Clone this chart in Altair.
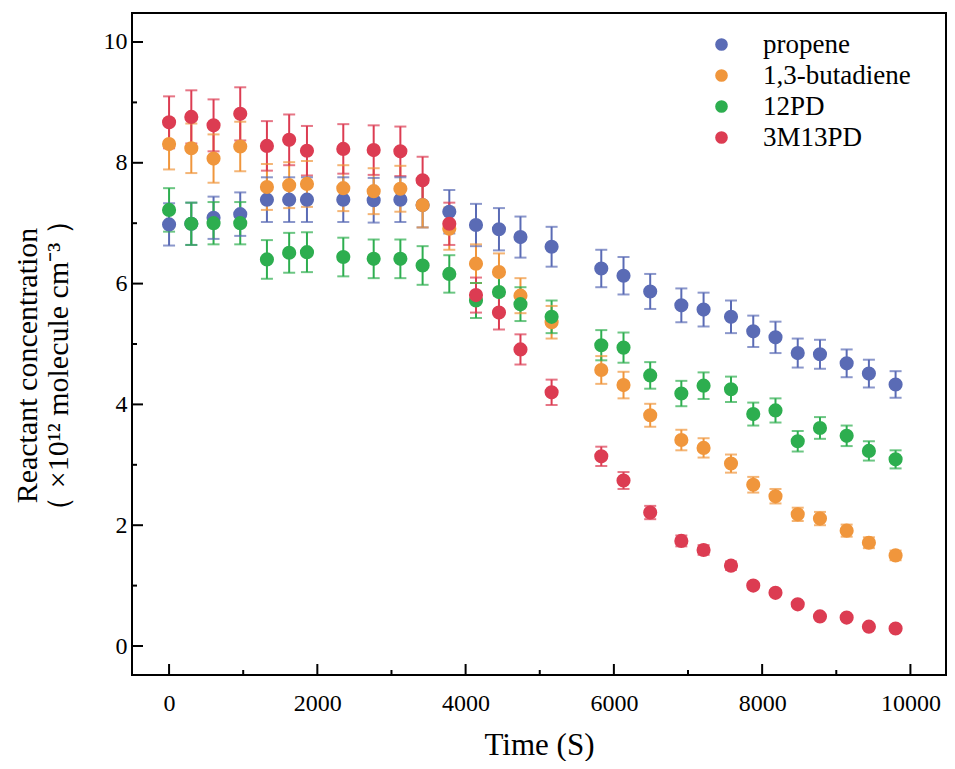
import altair as alt
import pandas as pd

# ---------------- data ----------------
time_s = [0, 300, 600, 960, 1320, 1620, 1860, 2350, 2760, 3120, 3420, 3780,
          4140, 4450, 4740, 5160, 5830, 6130, 6490, 6910, 7210, 7580, 7880,
          8180, 8480, 8780, 9140, 9440, 9800]

series_names = ["propene", "1,3-butadiene", "12PD", "3M13PD"]

propene = [6.98, 6.99, 7.09, 7.15, 7.39, 7.39, 7.39, 7.39, 7.38, 7.39, 7.30, 7.19,
           6.97, 6.90, 6.77, 6.61, 6.25, 6.13, 5.87, 5.64, 5.57, 5.45, 5.21,
           5.11, 4.85, 4.83, 4.68, 4.51, 4.33]
propene_err = [0.35, 0.35, 0.35, 0.36, 0.37, 0.37, 0.37, 0.37, 0.37, 0.37, 0.37, 0.36,
               0.35, 0.35, 0.34, 0.33, 0.31, 0.31, 0.29, 0.28, 0.28, 0.27, 0.26,
               0.26, 0.24, 0.24, 0.23, 0.23, 0.22]

butadiene = [8.31, 8.24, 8.07, 8.27, 7.60, 7.63, 7.65, 7.58, 7.53, 7.57, 7.30, 6.91,
             6.33, 6.19, 5.80, 5.36, 4.57, 4.32, 3.82, 3.41, 3.28, 3.02, 2.67,
             2.48, 2.18, 2.11, 1.91, 1.71, 1.50]
butadiene_err = [0.42, 0.41, 0.40, 0.41, 0.38, 0.38, 0.38, 0.38, 0.38, 0.38, 0.37, 0.35,
                 0.32, 0.31, 0.29, 0.27, 0.23, 0.22, 0.19, 0.17, 0.16, 0.15, 0.13,
                 0.12, 0.11, 0.11, 0.10, 0.09, 0.08]

pd12 = [7.22, 6.99, 7.00, 7.00, 6.40, 6.51, 6.52, 6.44, 6.41, 6.41, 6.30, 6.16,
        5.72, 5.86, 5.66, 5.45, 4.98, 4.94, 4.48, 4.18, 4.31, 4.25, 3.84,
        3.90, 3.39, 3.61, 3.48, 3.23, 3.09]
pd12_err = [0.36, 0.35, 0.35, 0.35, 0.32, 0.33, 0.33, 0.32, 0.32, 0.32, 0.32, 0.31,
            0.29, 0.29, 0.28, 0.27, 0.25, 0.25, 0.22, 0.21, 0.22, 0.21, 0.19,
            0.20, 0.17, 0.18, 0.17, 0.16, 0.15]

m13pd = [8.67, 8.76, 8.62, 8.81, 8.28, 8.38, 8.20, 8.23, 8.21, 8.19, 7.71, 6.99,
         5.81, 5.52, 4.91, 4.20, 3.14, 2.74, 2.21, 1.74, 1.59, 1.33, 1.00,
         0.88, 0.69, 0.49, 0.47, 0.32, 0.29]
m13pd_err = [0.43, 0.44, 0.43, 0.44, 0.41, 0.42, 0.41, 0.41, 0.41, 0.41, 0.39, 0.35,
             0.29, 0.28, 0.25, 0.21, 0.16, 0.14, 0.11, 0.09, 0.08, 0.07, 0.05,
             0.04, 0.03, 0.02, 0.02, 0.02, 0.01]

colors = ["#5A6BB5", "#F0963C", "#2DAE4F", "#DC3C52"]

x_label_values = [0, 2000, 4000, 6000, 8000, 10000]
x_tick_values = [0, 1000, 2000, 3000, 4000, 5000, 6000, 7000, 8000, 9000, 10000]
y_label_values = [0, 2, 4, 6, 8, 10]
y_tick_values = [0, 1, 2, 3, 4, 5, 6, 7, 8, 9, 10]

# ---------------- tables ----------------
rows = []
for name, col, vals, errs in zip(series_names, colors,
                                 [propene, butadiene, pd12, m13pd],
                                 [propene_err, butadiene_err, pd12_err, m13pd_err]):
    for t, v, e in zip(time_s, vals, errs):
        rows.append({"time": t, "value": v, "lo": v - e, "hi": v + e,
                     "series": name, "col": col})
df = pd.DataFrame(rows)
xt_df = pd.DataFrame({"v": x_tick_values})
yt_df = pd.DataFrame({"v": y_tick_values})

W, H = 814, 662
FONT = "Liberation Serif"
MAJ, MIN = 11, 5

xscale = alt.Scale(domain=[-500, 10480], nice=False, zero=False)
yscale = alt.Scale(domain=[-0.48, 10.48], nice=False, zero=False)
cscale = alt.Scale(domain=series_names, range=colors)

x_axis = alt.Axis(values=x_label_values, format="d", ticks=False, tickSize=0,
                  domain=False, grid=False,
                  labelFont=FONT, labelFontSize=24, labelPadding=16,
                  labelColor="black",
                  title="Time (S)", titleFont=FONT, titleFontSize=31,
                  titleFontWeight="normal", titleColor="black",
                  titleBaseline="alphabetic", titleY=79)
y_axis = alt.Axis(values=y_label_values, ticks=False, tickSize=0,
                  domain=False, grid=False,
                  labelFont=FONT, labelFontSize=24, labelPadding=5,
                  labelColor="black",
                  title=["Reactant concentration", "（ ×10¹² molecule cm⁻³ ）"],
                  titleFont=FONT, titleFontSize=30, titleFontWeight="normal",
                  titleColor="black", titleAngle=270,
                  titleBaseline="alphabetic", titleAlign="center",
                  titleLineHeight=31, titleX=-96, titleY=352)

def X(field):
    return alt.X(field, scale=xscale, axis=x_axis)

def Y(field):
    return alt.Y(field, scale=yscale, axis=y_axis)

base = alt.Chart(df)

# inward axis ticks (positions through the scales)
xt = alt.Chart(xt_df)
x_major = xt.transform_filter("datum.v % 2000 === 0").mark_rule(
    color="black", strokeWidth=2).encode(
    x=X("v:Q"), y=alt.value(H), y2=alt.value(H - MAJ))
x_minor = xt.transform_filter("datum.v % 2000 !== 0").mark_rule(
    color="black", strokeWidth=2).encode(
    x=X("v:Q"), y=alt.value(H), y2=alt.value(H - MIN))
yt = alt.Chart(yt_df)
y_major = yt.transform_filter("datum.v % 2 === 0").mark_rule(
    color="black", strokeWidth=2).encode(
    y=Y("v:Q"), x=alt.value(0), x2=alt.value(MAJ))
y_minor = yt.transform_filter("datum.v % 2 !== 0").mark_rule(
    color="black", strokeWidth=2).encode(
    y=Y("v:Q"), x=alt.value(0), x2=alt.value(MIN))

# error bars: colours taken straight from the colour list (no extra legend)
err_rules = base.mark_rule(strokeWidth=2).encode(
    x=X("time:Q"), y=Y("lo:Q"), y2="hi:Q",
    stroke=alt.Stroke("col:N", scale=None))
cap_lo = base.mark_tick(orient="horizontal", size=12, thickness=2).encode(
    x=X("time:Q"), y=Y("lo:Q"), fill=alt.Fill("col:N", scale=None))
cap_hi = base.mark_tick(orient="horizontal", size=12, thickness=2).encode(
    x=X("time:Q"), y=Y("hi:Q"), fill=alt.Fill("col:N", scale=None))

points = base.mark_circle(size=200, opacity=1).encode(
    x=X("time:Q"), y=Y("value:Q"),
    color=alt.Color("series:N", scale=cscale, sort=series_names,
                    legend=alt.Legend(title=None, orient="none", legendX=576, legendY=18,
                                      symbolType="circle", symbolSize=160,
                                      symbolStrokeWidth=0, symbolOpacity=1,
                                      labelFont=FONT, labelFontSize=27,
                                      labelColor="black", labelOffset=28,
                                      rowPadding=3, padding=0)))

chart = alt.layer(
    x_major, x_minor, y_major, y_minor, err_rules, cap_lo, cap_hi, points
).properties(
    width=W, height=H,
    autosize=alt.AutoSizeParams(type="none"),
    padding={"left": 124, "top": 5, "right": 1, "bottom": 86},
).configure_view(
    stroke="black", strokeWidth=2
)

chart.save("out.html", embed_options={"renderer": "svg", "actions": False})
